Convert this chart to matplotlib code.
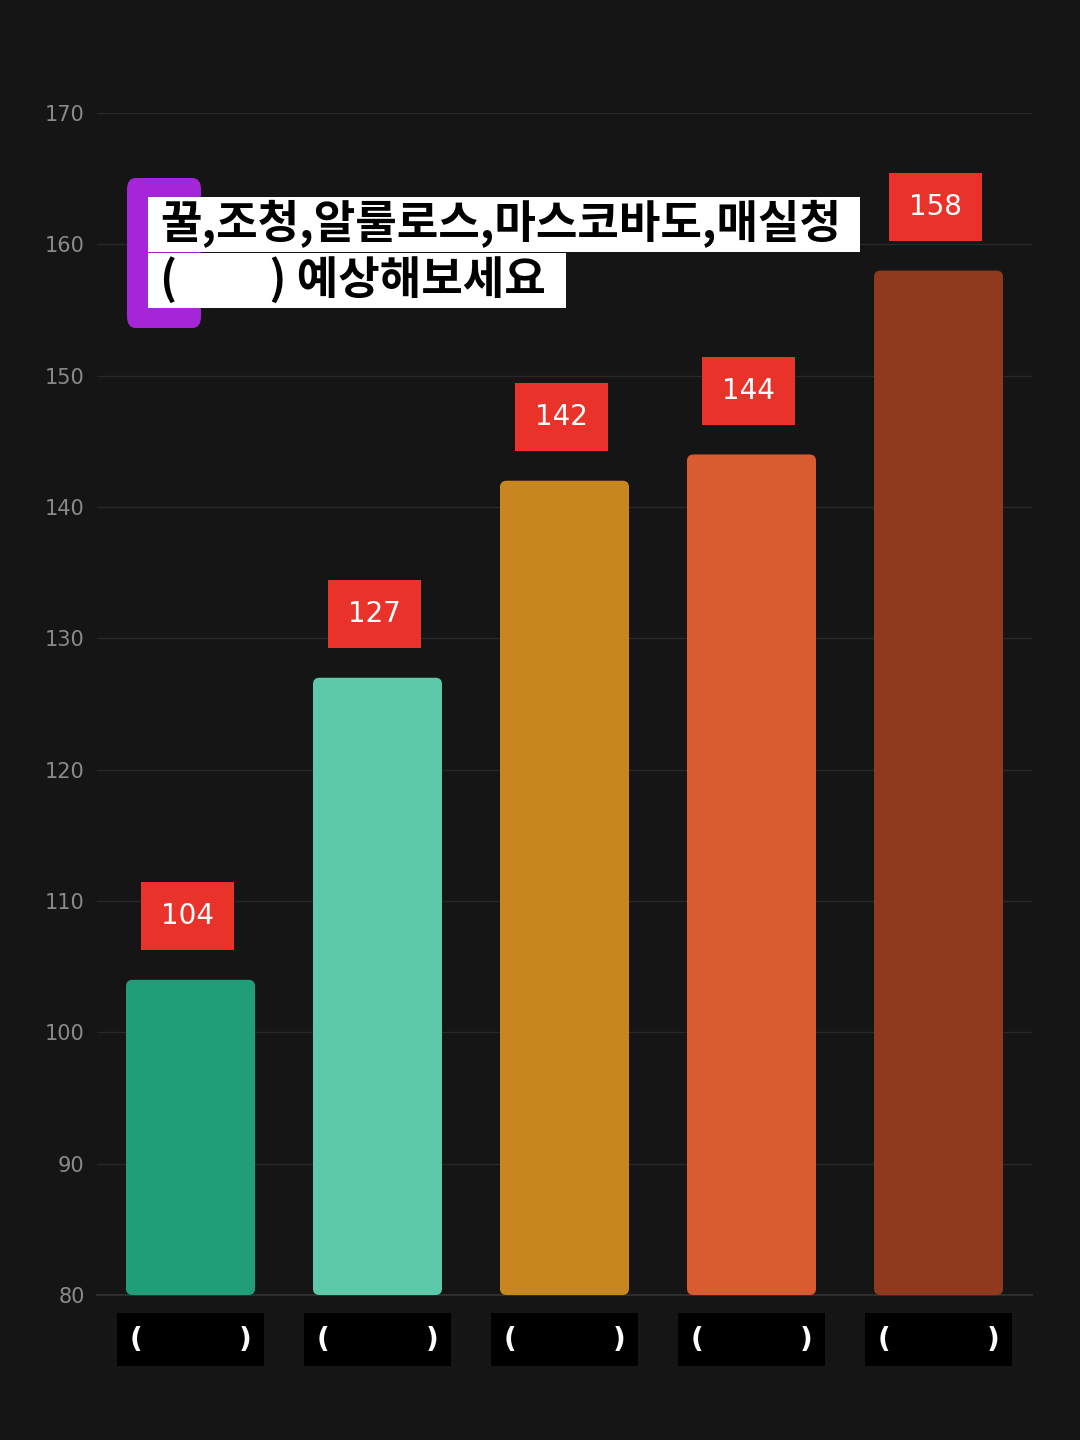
import matplotlib
matplotlib.use("Agg")
import matplotlib.pyplot as plt
from matplotlib.patches import FancyBboxPatch, Rectangle

categories = ["(          )", "(          )", "(          )", "(          )", "(          )"]
values = [104, 127, 142, 144, 158]
colors = ["#1f9e77", "#5ec9a8", "#c8861e", "#d95b30", "#8f3a1c"]
yticks = [80, 90, 100, 110, 120, 130, 140, 150, 160, 170]
title_line1 = "꿀,조청,알룰로스,마스코바도,매실청"
title_line2 = "(         ) 예상해보세요"

plt.rcParams['font.family'] = ['Noto Sans CJK KR', 'DejaVu Sans']

BG = "#151515"
fig = plt.figure(figsize=(10.8, 14.4), dpi=100, facecolor=BG)
ax = fig.add_axes([97/1080, 1-1295/1440, (1032-97)/1080, (1295-113)/1440])
ax.set_facecolor(BG)
ax.set_xlim(-0.5, 4.5)
ax.set_ylim(80, 170)

bars = ax.bar(range(len(values)), [v - 80 for v in values], bottom=80, width=0.69, color=colors)
for b, c in zip(bars, colors):
    b.set_visible(False)
    p = FancyBboxPatch((b.get_x(), b.get_y()), b.get_width(), b.get_height(),
                       boxstyle="round,pad=0,rounding_size=0.035", mutation_aspect=14.0,
                       facecolor=c, edgecolor='none', zorder=3)
    ax.add_patch(p)

for i, v in enumerate(values):
    ax.annotate(str(v), xy=(i, v), xytext=(-2, 46), textcoords='offset points',
                ha='center', va='center', color='white', fontsize=20,
                family=['DejaVu Sans'],
                bbox=dict(boxstyle='square,pad=0.72', facecolor='#e8322a', edgecolor='none'),
                zorder=5)

ax.set_yticks(yticks)
ax.set_yticklabels([str(t) for t in yticks], color='#8a8a8a', fontsize=15, family=['DejaVu Sans'])
ax.yaxis.grid(True, color='#282828', linewidth=1)
ax.set_axisbelow(True)
ax.tick_params(axis='y', length=0, pad=9)
ax.tick_params(axis='x', length=0, pad=22)
ax.set_xticks(range(len(values)))
ax.set_xticklabels(categories, color='white', fontsize=20, fontweight='bold', family=['DejaVu Sans'])
for lab in ax.get_xticklabels():
    lab.set_bbox(dict(boxstyle='square,pad=0.45', facecolor='black', edgecolor='none'))
for s in ['top', 'right', 'left']:
    ax.spines[s].set_visible(False)
ax.spines['bottom'].set_color('#333333')
ax.spines['bottom'].set_linewidth(1.2)

# title decoration
purple = FancyBboxPatch((127/1080, 1-328/1440), 74/1080, 150/1440,
                        boxstyle="round,pad=0,rounding_size=0.008",
                        transform=fig.transFigure, facecolor='#a526d6', edgecolor='none', zorder=1)
fig.patches.append(purple)
fig.patches.append(Rectangle((148/1080, 1-252/1440), (860-148)/1080, 55/1440,
                             transform=fig.transFigure, facecolor='white', edgecolor='none', zorder=2))
fig.patches.append(Rectangle((148/1080, 1-308/1440), (566-148)/1080, 55/1440,
                             transform=fig.transFigure, facecolor='white', edgecolor='none', zorder=2))
fig.text(160/1080, 1-224/1440, title_line1, fontsize=32.5, fontweight='bold', color='black',
         ha='left', va='center', zorder=3)
fig.text(160/1080, 1-280/1440, title_line2, fontsize=32.5, fontweight='bold', color='black',
         ha='left', va='center', zorder=3)

fig.savefig("out.png", dpi=100, facecolor=BG)
